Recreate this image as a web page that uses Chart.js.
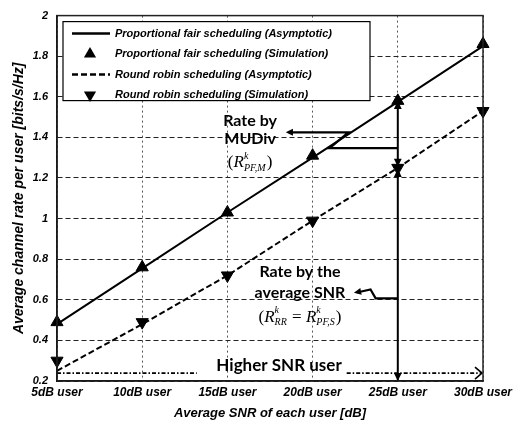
<!DOCTYPE html>
<html>
<head>
<meta charset="utf-8">
<script src="https://cdn.jsdelivr.net/npm/chart.js@4.4.0/dist/chart.umd.min.js"></script>
<style>
  html, body { margin: 0; padding: 0; background: #fff; }
</style>
</head>
<body>
<canvas id="myChart" width="523" height="422"></canvas>
<script>
let snrValues = [5, 10, 15, 20, 25, 30];
let pfAsymptotic = [0.48, 0.755, 1.03, 1.30, 1.575, 1.85];
let pfSimulation = [0.49, 0.76, 1.03, 1.31, 1.58, 1.86];
let rrAsymptotic = [0.25, 0.48, 0.72, 0.99, 1.25, 1.53];
let rrSimulation = [0.30, 0.49, 0.72, 0.99, 1.25, 1.53];
let seriesNames = [
  'Proportional fair scheduling (Asymptotic)',
  'Proportional fair scheduling (Simulation)',
  'Round robin scheduling (Asymptotic)',
  'Round robin scheduling (Simulation)'
];

const sansFont = '"Liberation Sans", Arial, sans-serif';
const noteFont = 'Lato, "Open Sans", sans-serif';
const serifFont = '"Liberation Serif", "Times New Roman", serif';

function toPoints(values) {
  return snrValues.map((x, i) => ({ x: x, y: values[i] }));
}

// filled arrow head at (x2, y2), coming from (x1, y1)
function arrowHead(ctx, x1, y1, x2, y2, size) {
  const a = Math.atan2(y2 - y1, x2 - x1);
  ctx.beginPath();
  ctx.moveTo(x2, y2);
  ctx.lineTo(x2 - size * Math.cos(a - 0.45), y2 - size * Math.sin(a - 0.45));
  ctx.lineTo(x2 - size * Math.cos(a + 0.45), y2 - size * Math.sin(a + 0.45));
  ctx.closePath();
  ctx.fill();
}

function drawFormula(ctx, items, cx, cy) {
  const big = 'italic 17px ' + serifFont;
  const upright = '17px ' + serifFont;
  const small = 'italic 10px ' + serifFont;
  const widths = items.map(it => {
    if (it.sup !== undefined) {
      ctx.font = small;
      return Math.max(ctx.measureText(it.sup).width, ctx.measureText(it.sub).width) + 1;
    }
    ctx.font = it.italic ? big : upright;
    return ctx.measureText(it.text).width;
  });
  let x = cx - widths.reduce((a, b) => a + b, 0) / 2;
  ctx.textAlign = 'left';
  ctx.textBaseline = 'middle';
  items.forEach((it, i) => {
    if (it.sup !== undefined) {
      ctx.font = small;
      ctx.fillText(it.sup, x, cy - 7);
      ctx.fillText(it.sub, x, cy + 5);
    } else {
      ctx.font = it.italic ? big : upright;
      ctx.fillText(it.text, x, cy);
    }
    x += widths[i];
  });
}

const decorations = {
  id: 'decorations',
  afterDatasetsDraw(chart) {
    const ctx = chart.ctx;
    const xs = chart.scales.x, ys = chart.scales.y;
    const P = (x, y) => [xs.getPixelForValue(x), ys.getPixelForValue(y)];
    const area = chart.chartArea;

    ctx.save();
    ctx.strokeStyle = '#000';
    ctx.fillStyle = '#000';

    // vertical double arrows at the 25dB user
    const top = P(25, pfSimulation[4]), mid = P(25, rrSimulation[4]), bot = P(25, 0.2);
    ctx.lineWidth = 2;
    ctx.beginPath();
    ctx.moveTo(top[0], top[1]);
    ctx.lineTo(bot[0], bot[1]);
    ctx.stroke();
    arrowHead(ctx, mid[0], mid[1], top[0], top[1], 9);
    arrowHead(ctx, top[0], top[1], mid[0], mid[1] - 1, 9);
    arrowHead(ctx, bot[0], bot[1], mid[0], mid[1] + 1, 9);
    arrowHead(ctx, mid[0], mid[1], bot[0], bot[1], 9);

    // connector to "Rate by MUDiv"
    let pts = [P(25, 1.347), P(21.0, 1.347), P(22.1, 1.425), P(18.6, 1.425)];
    ctx.lineWidth = 2.2;
    ctx.beginPath();
    pts.forEach((p, i) => i ? ctx.lineTo(p[0], p[1]) : ctx.moveTo(p[0], p[1]));
    ctx.stroke();
    arrowHead(ctx, pts[2][0], pts[2][1], pts[3][0] - 3, pts[3][1], 8);

    // connector to "Rate by the average SNR"
    pts = [P(25, 0.607), P(23.7, 0.607), P(23.4, 0.651), P(22.6, 0.636)];
    ctx.beginPath();
    pts.forEach((p, i) => i ? ctx.lineTo(p[0], p[1]) : ctx.moveTo(p[0], p[1]));
    ctx.stroke();
    arrowHead(ctx, pts[2][0], pts[2][1], pts[3][0] - 3, pts[3][1] + 0.2, 8);

    // dash-dot arrow for "Higher SNR user"
    ctx.lineWidth = 1.6;
    ctx.setLineDash([4, 2, 1.5, 2]);
    let a = P(5, 0.239), b = P(13.2, 0.239);
    ctx.beginPath(); ctx.moveTo(a[0], a[1]); ctx.lineTo(b[0], b[1]); ctx.stroke();
    a = P(22.0, 0.239); b = P(30, 0.239);
    ctx.beginPath(); ctx.moveTo(a[0], a[1]); ctx.lineTo(b[0] - 1, b[1]); ctx.stroke();
    ctx.setLineDash([]);
    ctx.beginPath();
    ctx.moveTo(b[0] - 8, b[1] - 6);
    ctx.lineTo(b[0] - 1, b[1]);
    ctx.lineTo(b[0] - 8, b[1] + 6);
    ctx.stroke();

    // notes
    ctx.textAlign = 'center';
    ctx.textBaseline = 'middle';
    ctx.font = 'bold 16px ' + noteFont;
    let t = P(16.33, 1.484); ctx.fillText('Rate by', t[0], t[1]);
    t = P(16.33, 1.391); ctx.fillText('MUDiv', t[0], t[1]);
    t = P(16.33, 1.274);
    drawFormula(ctx, [{ text: '(' }, { text: 'R', italic: true }, { sup: 'k', sub: 'PF,M' }, { text: ')' }], t[0], t[1]);

    ctx.textAlign = 'center';
    ctx.font = 'bold 16px ' + noteFont;
    t = P(19.26, 0.739); ctx.fillText('Rate by the', t[0], t[1]);
    t = P(19.26, 0.636); ctx.fillText('average SNR', t[0], t[1]);
    t = P(19.26, 0.514);
    drawFormula(ctx, [{ text: '(' }, { text: 'R', italic: true }, { sup: 'k', sub: 'RR' },
      { text: ' = ' }, { text: 'R', italic: true }, { sup: 'k', sub: 'PF,S' }, { text: ')' }], t[0], t[1]);

    ctx.textAlign = 'center';
    ctx.font = 'bold 17px ' + noteFont;
    t = P(18.03, 0.278); ctx.fillText('Higher SNR user', t[0], t[1]);

    // plot frame
    ctx.lineWidth = 1.5;
    ctx.strokeStyle = '#222';
    ctx.strokeRect(area.left, area.top, area.right - area.left, area.bottom - area.top);
    ctx.restore();
  },
  afterDraw(chart) {
    const ctx = chart.ctx;
    const area = chart.chartArea;
    ctx.save();

    // legend box in the top left corner of the plot
    const left = area.left + 6, top = area.top + 6, w = 307, h = 79;
    ctx.fillStyle = '#fff';
    ctx.fillRect(left, top, w, h);
    ctx.strokeStyle = '#000';
    ctx.lineWidth = 1.2;
    ctx.strokeRect(left, top, w, h);
    ctx.font = 'bold italic 11px ' + sansFont;
    ctx.textAlign = 'left';
    ctx.textBaseline = 'middle';
    chart.data.datasets.forEach((ds, i) => {
      const y = top + 12 + i * 20.5;
      ctx.fillStyle = '#000';
      ctx.strokeStyle = '#000';
      if (ds.showLine === false) {
        const r = 7;
        ctx.save();
        ctx.translate(left + 27, y);
        ctx.rotate((ds.pointRotation || 0) * Math.PI / 180);
        ctx.beginPath();
        ctx.moveTo(0, -r);
        ctx.lineTo(r * 0.87, r * 0.5);
        ctx.lineTo(-r * 0.87, r * 0.5);
        ctx.closePath();
        ctx.fill();
        ctx.restore();
      } else {
        ctx.lineWidth = 2.5;
        ctx.setLineDash(ds.borderDash || []);
        ctx.beginPath();
        ctx.moveTo(left + 9, y);
        ctx.lineTo(left + 47, y);
        ctx.stroke();
        ctx.setLineDash([]);
      }
      ctx.fillText(ds.label, left + 52, y);
    });
    ctx.restore();
  }
};

new Chart("myChart", {
  type: 'line',
  data: {
    datasets: [{
      label: seriesNames[0],
      data: toPoints(pfAsymptotic),
      borderColor: '#000',
      borderWidth: 2,
      pointRadius: 0,
      fill: false,
      clip: false
    }, {
      label: seriesNames[1],
      data: toPoints(pfSimulation),
      showLine: false,
      pointStyle: 'triangle',
      pointRadius: 7,
      backgroundColor: '#000',
      borderColor: '#000',
      clip: false
    }, {
      label: seriesNames[2],
      data: toPoints(rrAsymptotic),
      borderColor: '#000',
      borderWidth: 2,
      borderDash: [6, 3],
      pointRadius: 0,
      fill: false,
      clip: false
    }, {
      label: seriesNames[3],
      data: toPoints(rrSimulation),
      showLine: false,
      pointStyle: 'triangle',
      pointRotation: 180,
      pointRadius: 7,
      backgroundColor: '#000',
      borderColor: '#000',
      clip: false
    }]
  },
  options: {
    responsive: false,
    animation: false,
    layout: { padding: { left: 0, top: 15, right: 40, bottom: 0 } },
    plugins: {
      legend: { display: false },
      tooltip: { enabled: false }
    },
    scales: {
      x: {
        type: 'linear',
        min: 5,
        max: 30,
        ticks: {
          stepSize: 5,
          autoSkip: false,
          maxRotation: 0,
          padding: 4,
          color: '#000',
          font: { family: sansFont, size: 12, style: 'italic', weight: 'bold' },
          callback: v => v + 'dB user'
        },
        grid: { color: '#555', lineWidth: 1, drawTicks: false },
        border: { color: '#000', width: 1.5, dash: [2, 3] },
        title: {
          display: true,
          text: 'Average SNR of each user [dB]',
          color: '#000',
          font: { family: sansFont, size: 13, style: 'italic', weight: 'bold' },
          padding: { top: 0, bottom: 1 }
        },
        afterFit: s => { s.height = 41; }
      },
      y: {
        min: 0.2,
        max: 2,
        ticks: {
          stepSize: 0.2,
          padding: 9,
          color: '#000',
          font: { family: sansFont, size: 11, style: 'italic', weight: 'bold' },
          callback: v => String(Number(v.toFixed(1)))
        },
        grid: { color: '#222', lineWidth: 1, drawTicks: false },
        border: { color: '#000', width: 1.5, dash: [5, 3] },
        title: {
          display: true,
          text: 'Average channel rate per user [bits/s/Hz]',
          color: '#000',
          font: { family: sansFont, size: 14, style: 'italic', weight: 'bold' },
          padding: { top: 11, bottom: 0 }
        },
        afterFit: s => { s.width = 57; }
      }
    }
  },
  plugins: [decorations]
});
</script>
</body>
</html>
